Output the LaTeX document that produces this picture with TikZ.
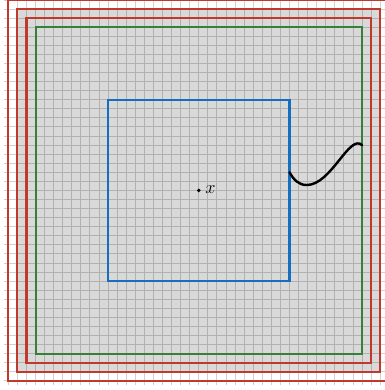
\documentclass[tikz,border=0pt]{standalone}
\begin{document}
\begin{tikzpicture}[x=0.25cm,y=0.25cm,
  redsq/.style={draw=myred,line width=1.7pt},
  greensq/.style={draw=mygreen,line width=1.6pt},
  bluesq/.style={draw=myblue,line width=1.8pt},
  gridline/.style={draw=black,opacity=0.18,line width=0.75pt},
  curveline/.style={draw=black,line width=1.9pt,line cap=round}]
\definecolor{myred}{RGB}{192,57,43}
\definecolor{mygreen}{RGB}{56,128,56}
\definecolor{myblue}{RGB}{22,110,190}
\useasboundingbox (-21.92,-22) rectangle (20.42,21);
\fill[black!15] (-20,-20) rectangle (20,20);
\draw[gridline,step=0.25cm] (-21.5,-21.5) grid (21.5,21.5);
\draw[redsq] (-21,-21) rectangle (21,21);
\draw[redsq] (-20,-20) rectangle (20,20);
\draw[redsq] (-19,-19) rectangle (19,19);
\draw[greensq] (-18,-18) rectangle (18,18);
\draw[bluesq] (-10,-10) rectangle (10,10);
\fill (0,0) circle (1.5pt);
\node[font=\Large,anchor=west,inner sep=1pt] (px) at (0.55,0.05) {$x$};
\coordinate (cs) at (10,2);
\coordinate (cm) at (11.9,0.6);
\coordinate (ce) at (18,5);
\draw[curveline] (cs) to[out=-60,in=180] (cm) .. controls (14.6,0.6) and (16.6,6.3) .. (ce);
\end{tikzpicture}
\end{document}
